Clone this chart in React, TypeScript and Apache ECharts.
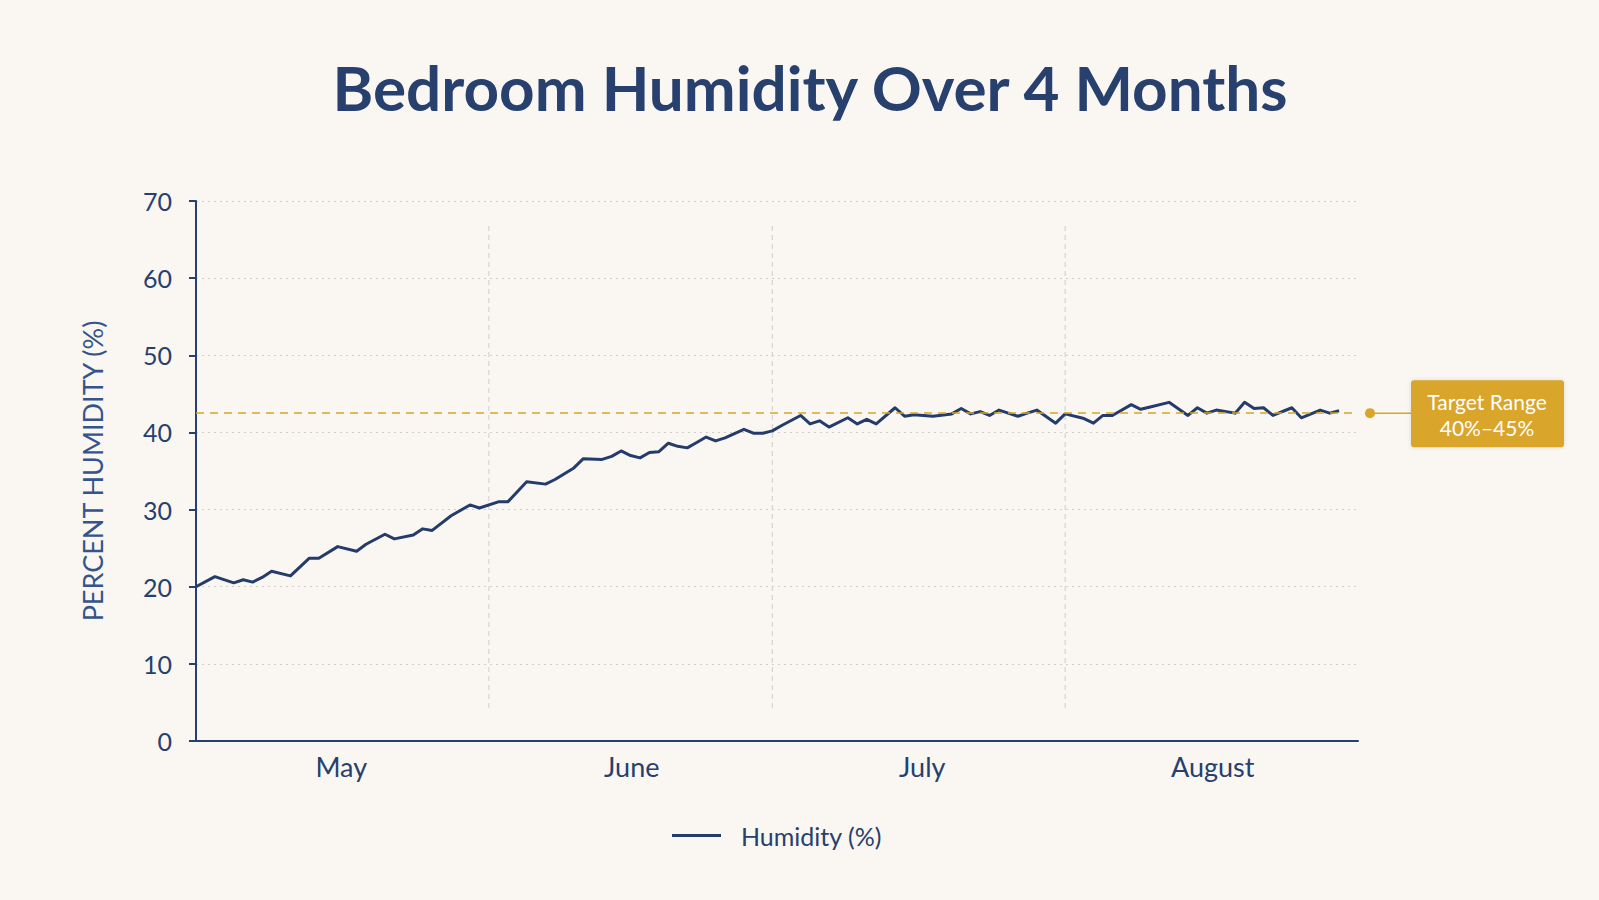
import React, { useEffect, useRef } from "react";
import * as echarts from "echarts";

// Days since May 1 and the humidity reading on that day
const days = [
  0, 2, 4, 5, 6, 7, 8, 10, 12, 13, 15, 17, 18, 20, 21, 23, 24, 25, 27, 29, 30,
  32, 33, 35, 37, 38, 40, 41, 43, 44, 45, 46, 47, 48, 49, 50, 51, 52, 53, 54,
  55, 56, 58, 59, 60, 61, 62, 64, 65, 66, 67, 69, 70, 71, 72, 74, 75, 76, 77,
  78, 80, 81, 82, 83, 84, 85, 87, 88, 89, 91, 92, 94, 95, 96, 97, 99, 100, 101,
  103, 105, 106, 107, 108, 110, 111, 112, 113, 114, 116, 117, 119, 120, 121,
];
const humidity = [
  20.0, 21.3, 20.5, 20.9, 20.6, 21.2, 22.0, 21.4, 23.7, 23.7, 25.2, 24.6, 25.5,
  26.8, 26.2, 26.7, 27.5, 27.3, 29.2, 30.6, 30.2, 31.0, 31.0, 33.6, 33.3, 33.9,
  35.4, 36.6, 36.5, 36.9, 37.6, 37.0, 36.7, 37.4, 37.5, 38.6, 38.2, 38.0, 38.7,
  39.4, 38.9, 39.3, 40.4, 39.9, 39.9, 40.2, 40.9, 42.2, 41.1, 41.5, 40.7, 41.9,
  41.1, 41.7, 41.1, 43.2, 42.1, 42.3, 42.2, 42.1, 42.4, 43.1, 42.4, 42.7, 42.2,
  42.9, 42.1, 42.5, 42.9, 41.2, 42.4, 41.8, 41.2, 42.2, 42.2, 43.6, 43.0, 43.3,
  43.9, 42.2, 43.2, 42.5, 42.9, 42.5, 43.9, 43.1, 43.2, 42.2, 43.2, 41.9, 42.9,
  42.5, 42.8,
];

const months = ["May", "June", "July", "August"];
const monthStartDays = [31, 61, 92];
const totalDays = 123;

const targetLow = 40;
const targetHigh = 45;
const targetMid = (targetLow + targetHigh) / 2;

const NAVY = "#27406E";
const LINE = "#253C6A";
const GOLD = "#D9A52A";
const BG = "#FAF7F2";
const FONT = "Lato, 'Noto Sans', sans-serif";

export default function App() {
  const ref = useRef<HTMLDivElement>(null);

  useEffect(() => {
    if (!ref.current) return;
    const chart = echarts.init(ref.current, null, { renderer: "svg" });
    const series = days.map((d, i) => [d, humidity[i]]);

    chart.setOption({
      animation: false,
      backgroundColor: BG,
      textStyle: { fontFamily: FONT },
      graphic: [
        {
          type: "text",
          x: 810,
          y: 87,
          style: {
            text: "Bedroom Humidity Over 4 Months",
            fontFamily: FONT,
            fontWeight: 700,
            fontSize: 62,
            fill: NAVY,
            textAlign: "center",
            textVerticalAlign: "middle",
          },
        },
      ],
      grid: { left: 196, right: 241, top: 201, bottom: 159 },
      legend: {
        data: ["Humidity (%)"],
        left: 667,
        top: 818,
        icon: "rect",
        itemWidth: 49,
        itemHeight: 3,
        textStyle: {
          fontFamily: FONT,
          fontSize: 25,
          color: NAVY,
          padding: [0, 0, 0, 15],
        },
      },
      xAxis: [
        {
          type: "value",
          min: 0,
          max: totalDays,
          position: "bottom",
          axisLine: { show: true, lineStyle: { color: NAVY, width: 2 } },
          axisTick: { show: false },
          axisLabel: { show: false },
          splitLine: { show: false },
        },
        {
          type: "category",
          data: months,
          position: "bottom",
          boundaryGap: true,
          axisLine: { show: false },
          axisTick: { show: false },
          splitLine: { show: false },
          axisLabel: {
            fontFamily: FONT,
            fontSize: 27,
            color: NAVY,
            margin: 12,
          },
        },
      ],
      yAxis: {
        type: "value",
        min: 0,
        max: 70,
        interval: 10,
        name: "PERCENT HUMIDITY (%)",
        nameLocation: "middle",
        nameRotate: 90,
        nameGap: 90,
        nameTextStyle: {
          fontFamily: FONT,
          fontSize: 27,
          color: "#34548C",
        },
        axisLine: { show: true, lineStyle: { color: NAVY, width: 2 } },
        axisTick: { show: true, length: 7, lineStyle: { color: NAVY, width: 2 } },
        axisLabel: {
          fontFamily: FONT,
          fontSize: 25,
          color: NAVY,
          margin: 24,
        },
        splitLine: {
          show: true,
          lineStyle: { color: "#CFCDC8", type: [2, 4], width: 1 },
        },
      },
      series: [
        {
          name: "Dividers",
          type: "custom",
          xAxisIndex: 0,
          yAxisIndex: 0,
          silent: true,
          data: monthStartDays.map((d) => [d, 0]),
          renderItem: (params: any, api: any) => {
            const bottom = api.coord([api.value(0), 0]);
            const top = api.coord([api.value(0), 70]);
            return {
              type: "line",
              shape: { x1: bottom[0], y1: top[1] + 25, x2: bottom[0], y2: bottom[1] - 29 },
              style: { stroke: "#CFCDC8", lineWidth: 1, lineDash: [5, 4] },
            };
          },
          z: 1,
        },
        {
          name: "Humidity (%)",
          type: "line",
          xAxisIndex: 0,
          yAxisIndex: 0,
          data: series,
          symbol: "none",
          lineStyle: { color: LINE, width: 3, join: "round" },
          itemStyle: { color: LINE },
          z: 3,
          markLine: {
            silent: true,
            symbol: "none",
            label: { show: false },
            lineStyle: { color: GOLD, type: [8, 6], width: 1.5 },
            data: [{ yAxis: targetMid }],
          },
        },
        {
          name: "Target",
          type: "custom",
          xAxisIndex: 0,
          yAxisIndex: 0,
          silent: true,
          clip: false,
          data: [[totalDays, targetMid]],
          renderItem: (params: any, api: any) => {
            const p = api.coord([api.value(0), api.value(1)]);
            const x = p[0];
            const y = p[1];
            return {
              type: "group",
              children: [
                {
                  type: "line",
                  shape: { x1: x + 12, y1: y, x2: x + 53, y2: y },
                  style: { stroke: GOLD, lineWidth: 1.5 },
                },
                {
                  type: "circle",
                  shape: { cx: x + 12, cy: y, r: 5 },
                  style: { fill: GOLD },
                },
                {
                  type: "rect",
                  shape: { x: x + 53, y: y - 33, width: 153, height: 67, r: 3 },
                  style: { fill: GOLD, shadowBlur: 4, shadowColor: "rgba(0,0,0,0.12)" },
                },
                {
                  type: "text",
                  x: x + 129,
                  y: y + 1,
                  style: {
                    text: `Target Range\n${targetLow}%–${targetHigh}%`,
                    fontFamily: FONT,
                    fontSize: 21,
                    lineHeight: 26,
                    fill: "#FFFFFF",
                    textAlign: "center",
                    textVerticalAlign: "middle",
                  },
                },
              ],
            };
          },
          z: 4,
        },
      ],
    });

    return () => chart.dispose();
  }, []);

  return (
    <div
      ref={ref}
      style={{ position: "absolute", left: 0, top: 0, width: 1599, height: 900, background: BG }}
    />
  );
}
